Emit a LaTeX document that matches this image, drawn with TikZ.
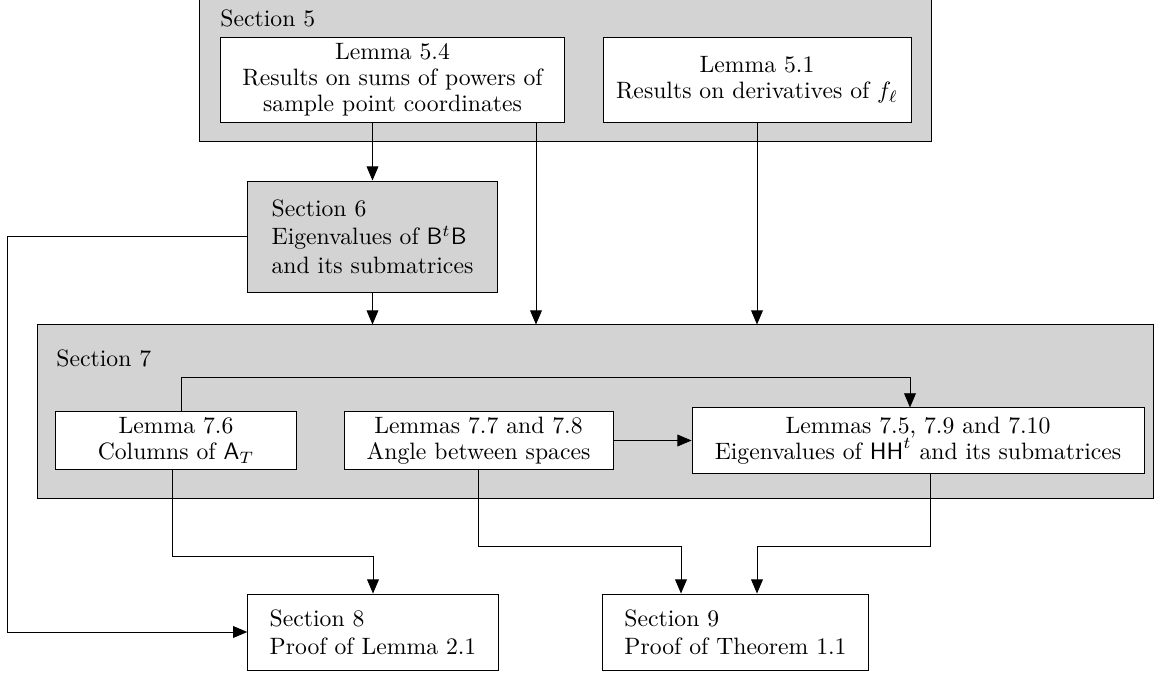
\documentclass[tikz,border=0pt]{standalone}
\usepackage{amsmath}
\usepackage{amssymb}
\usepackage[dvipsnames]{xcolor}
\usetikzlibrary{arrows.meta}
\definecolor{SecGray}{RGB}{211,211,211}

\begin{document}
\begin{tikzpicture}[x=0.4224pt,y=-0.4224pt,
        secbox/.style={draw,fill=SecGray,inner sep=0pt},
        lembox/.style={draw,fill=white,align=center,inner sep=0pt,font=\fontsize{10pt}{11pt}\selectfont},
        partbox/.style={draw,align=left,inner xsep=9.3pt,inner ysep=0pt,font=\fontsize{10pt}{12pt}\selectfont},
        flow/.style={-{Triangle[length=6pt,width=5pt]}}]
                \clip (0,0) rectangle (1161,675);

                % the two big grey frames
                \node[secbox,minimum width=308.8pt,minimum height=68.4pt] (sec5) at (565.5,61) {};
                \node[anchor=base west,inner sep=0pt] (lab5) at (220,27) {Section 5};
                \node[secbox,minimum width=471.4pt,minimum height=73.1pt] (sec7) at (595,411.5) {};
                \node[anchor=base west,inner sep=0pt] (lab7) at (56,366) {Section 7};

                \node[lembox,minimum width=145.7pt,minimum height=36.3pt] (l54) at (392.5,80) {Lemma 5.4\\Results on sums of powers of\\sample point coordinates};
                \node[lembox,minimum width=130.1pt,minimum height=36.3pt] (l51) at (757,80) {Lemma 5.1\\Results on derivatives of $f_\ell$};

                \node[partbox,fill=SecGray,minimum width=105.2pt,minimum height=46.9pt] (s6) at (372.5,236.5) {Section 6\\Eigenvalues of $\mathsf{B}^t\mathsf{B}$\\and its submatrices};

                \node[lembox,minimum width=101.4pt,minimum height=24.1pt] (l76) at (176,440.5) {Lemma 7.6\\Columns of $\mathsf{A}_T$};
                \node[lembox,minimum width=113.6pt,minimum height=24.1pt] (l77) at (478.5,440.5) {Lemmas 7.7 and 7.8\\Angle between spaces};
                \node[lembox,minimum width=190.9pt,minimum height=27.5pt] (l75) at (918,440.5) {Lemmas 7.5, 7.9 and 7.10\\Eigenvalues of $\mathsf{HH}^t$ and its submatrices};

                \node[partbox,fill=white,minimum width=105.6pt,minimum height=32.1pt] (s8) at (373,632) {Section 8\\Proof of Lemma 2.1};
                \node[partbox,fill=white,minimum width=111.9pt,minimum height=32.1pt] (s9) at (735.5,632) {Section 9\\Proof of Theorem 1.1};

                % bends of the connectors
                \coordinate (c1) at (536,0);
                \coordinate (c2) at (7,0);
                \coordinate (c3) at (181,377);
                \coordinate (c4) at (910,377);
                \coordinate (c5) at (172,556);
                \coordinate (c6) at (681,546);
                \coordinate (c7) at (930,546);
                \coordinate (c8) at (757,546);

                \draw[flow] (s6.north |- l54.south) -- (s6.north);
                \draw[flow] (l54.south -| c1) -- (sec7.north -| c1);
                \draw[flow] (l51.south) -- (l51.south |- sec7.north);
                \draw[flow] (s6.south) -- (s6.south |- sec7.north);
                \draw[flow] (s6.west) -- (s6.west -| c2) |- (s8.west);

                \draw[flow] (l76.north -| c3) -- (c3) -- (c4) -- (l75.north -| c4);
                \draw[flow] (l77.east) -- (l75.west);
                \draw[flow] (l76.south -| c5) -- (c5) -| (s8.north);
                \draw[flow] (l77.south) |- (c6) -- (s9.north -| c6);
                \draw[flow] (l75.south -| c7) -- (c7) -- (c8) -- (s9.north -| c8);
\end{tikzpicture}
\end{document}
